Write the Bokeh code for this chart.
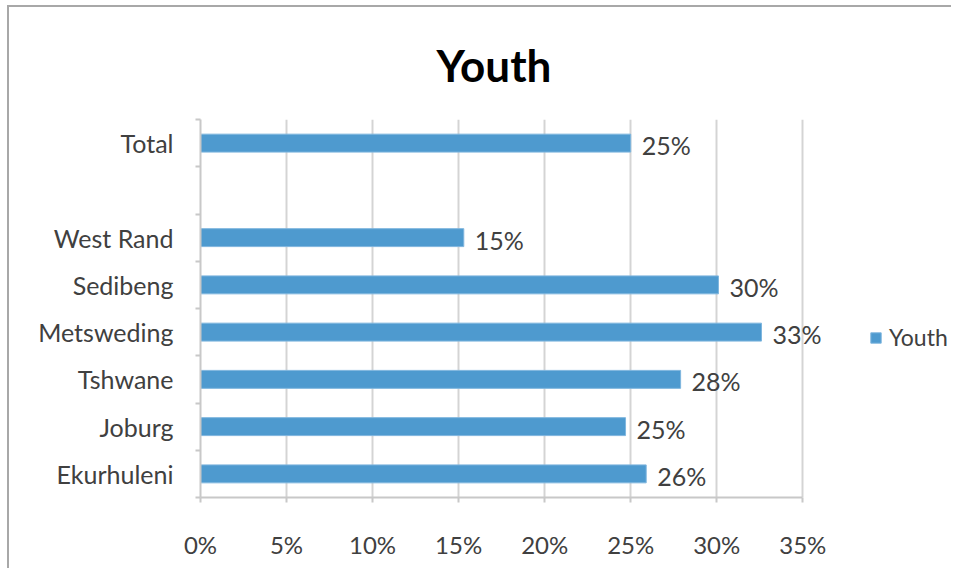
from bokeh.plotting import figure
from bokeh.models import (Range1d, FixedTicker, NumeralTickFormatter, Legend, LegendItem,
                          ColumnDataSource, LabelSet)
from bokeh.core.properties import value
from bokeh.embed import file_html
from bokeh.resources import INLINE

# ---- data (bottom to top) ----
categories = ["Ekurhuleni", "Joburg", "Tshwane", "Metsweding", "Sedibeng", "West Rand", "", "Total"]
youth = [0.259, 0.247, 0.279, 0.326, 0.301, 0.153, None, 0.25]
value_labels = ["26%", "25%", "28%", "33%", "30%", "15%", "", "25%"]
x_ticks = [0, 0.05, 0.10, 0.15, 0.20, 0.25, 0.30, 0.35]
series_name = "Youth"
chart_title = "Youth"

FONT = "Lato"
BAR = "#4E9ACF"
TXT = "#404040"
GRID = "#d4d4d4"
AX = "#c8c8c8"

centers = [i + 0.5 for i in range(len(categories))]
bounds = [i for i in range(len(categories) + 1)]

rows = [(c, v, l) for c, v, l in zip(centers, youth, value_labels) if v is not None]
src = ColumnDataSource(dict(y=[r[0] for r in rows], v=[r[1] for r in rows], lab=[r[2] for r in rows]))

p = figure(width=944, height=563, output_backend="svg", toolbar_location=None,
           x_range=Range1d(0, 0.437), y_range=Range1d(0, len(categories)),
           min_border_left=191, min_border_right=1, min_border_top=112, min_border_bottom=73)
p.styles = {"border-top": "2px solid #a8a8a8", "border-left": "2px solid #a8a8a8",
            "margin-left": "7px", "margin-top": "5px"}
p.outline_line_color = None
p.background_fill_color = "white"
p.border_fill_color = "white"

p.title.text = chart_title
p.title.align = "left"
p.title.offset = 236
p.title.text_font = FONT
p.title.text_font_style = "bold"
p.title.text_font_size = "44px"
p.title.text_color = "#000000"
p.title.standoff = 58

r = p.hbar(y="y", right="v", left=0, height=0.38, source=src, fill_color=BAR,
           line_color="#7fb6de", line_width=1)

labels = LabelSet(x="v", y="y", text="lab", source=src, x_offset=11, y_offset=-2,
                  text_font=value(FONT), text_font_size=value("25px"), text_color=TXT,
                  text_baseline="middle", text_align="left")
p.add_layout(labels)

# x axis (drawn only from 0% to 35%)
p.xaxis.bounds = (x_ticks[0], x_ticks[-1])
p.xaxis.ticker = FixedTicker(ticks=x_ticks)
p.xaxis.formatter = NumeralTickFormatter(format="0%")
p.xaxis.major_label_text_font = FONT
p.xaxis.major_label_text_font_size = "24px"
p.xaxis.major_label_text_color = TXT
p.xaxis.major_label_standoff = 27
p.xaxis.major_tick_out = 5
p.xaxis.major_tick_in = 0
p.xaxis.minor_tick_line_color = None
p.xaxis.axis_line_color = AX
p.xaxis.axis_line_width = 2
p.xaxis.major_tick_line_color = AX
p.xaxis.major_tick_line_width = 2

# y axis: labels at centres, tick marks at category boundaries
p.yaxis.ticker = FixedTicker(ticks=centers, minor_ticks=bounds)
p.yaxis.major_label_overrides = {c: name for c, name in zip(centers, categories)}
p.yaxis.major_label_text_font = FONT
p.yaxis.major_label_text_font_size = "25px"
p.yaxis.major_label_text_color = TXT
p.yaxis.major_label_standoff = 22
p.yaxis.major_tick_line_color = None
p.yaxis.major_tick_out = 0
p.yaxis.minor_tick_out = 5
p.yaxis.minor_tick_in = 0
p.yaxis.minor_tick_line_color = AX
p.yaxis.minor_tick_line_width = 2
p.yaxis.axis_line_color = AX
p.yaxis.axis_line_width = 2

p.xgrid.ticker = FixedTicker(ticks=x_ticks)
p.xgrid.grid_line_color = GRID
p.xgrid.grid_line_width = 2
p.ygrid.grid_line_color = None

legend = Legend(items=[LegendItem(label=series_name, renderers=[r])], location=(669, 146),
                label_text_font=FONT, label_text_font_size="23px", label_text_color=TXT,
                glyph_width=13, glyph_height=13, border_line_color=None,
                background_fill_alpha=0, padding=0, margin=0, label_standoff=7)
p.add_layout(legend, "center")

open("out.html", "w").write(file_html(p, INLINE))
